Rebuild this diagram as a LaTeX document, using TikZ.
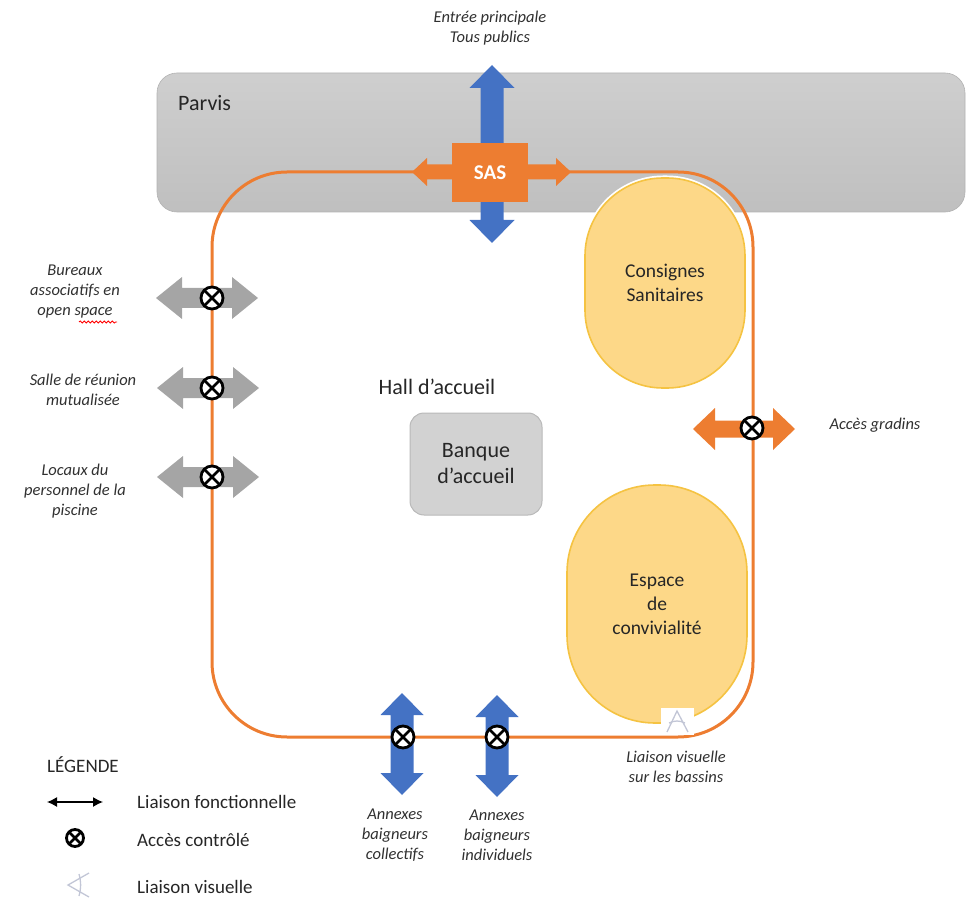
\documentclass[tikz,border=0pt]{standalone}
\usepackage{fontspec}
\setmainfont{Carlito}
\usetikzlibrary{decorations.pathmorphing,arrows.meta}
\definecolor{orng}{HTML}{ED7D31}
\definecolor{blu}{HTML}{4472C4}
\definecolor{gry}{HTML}{A5A5A5}
\definecolor{ylwfill}{HTML}{FDD888}
\definecolor{ylwdraw}{HTML}{F5C342}
\definecolor{eyec}{HTML}{C2C6D6}
\definecolor{lbl}{HTML}{303030}
\newcommand{\HArrow}[7]{%
 \fill[#7] ({#1-#3},#2) -- ({#1-#3+#4},{#2-#5}) -- ({#1-#3+#4},{#2-#6}) -- ({#1+#3-#4},{#2-#6}) -- ({#1+#3-#4},{#2-#5}) -- ({#1+#3},#2) -- ({#1+#3-#4},{#2+#5}) -- ({#1+#3-#4},{#2+#6}) -- ({#1-#3+#4},{#2+#6}) -- ({#1-#3+#4},{#2+#5}) -- cycle;}
\newcommand{\VArrow}[7]{%
 \fill[#7] (#1,{#2-#3}) -- ({#1+#5},{#2-#3+#4}) -- ({#1+#6},{#2-#3+#4}) -- ({#1+#6},{#2+#3-#4}) -- ({#1+#5},{#2+#3-#4}) -- (#1,{#2+#3}) -- ({#1-#5},{#2+#3-#4}) -- ({#1-#6},{#2+#3-#4}) -- ({#1-#6},{#2-#3+#4}) -- ({#1-#5},{#2-#3+#4}) -- cycle;}
\tikzset{
 ctrl/.style={circle, draw=black, line width=2.8pt, fill=white, minimum size=22pt, inner sep=0pt,
   path picture={\draw[line width=2.6pt] (path picture bounding box.north west) -- (path picture bounding box.south east) (path picture bounding box.north east) -- (path picture bounding box.south west);}},
 lab/.style={font=\fontsize{16.5}{20}\selectfont\itshape, text=lbl, align=center, inner sep=0pt},
 big/.style={font=\fontsize{22}{26}\selectfont, text=black!85, align=center, inner sep=0pt},
 leg/.style={font=\fontsize{19}{22}\selectfont, text=black!85, anchor=west, inner sep=0pt},
 yel/.style={fill=ylwfill, draw=ylwdraw, line width=1.6pt, preaction={draw=white, line width=5pt}, align=center, font=\fontsize{19.5}{24}\selectfont, text=black!85},
 loopline/.style={draw=orng, line width=3pt},
 eyeline/.style={draw=eyec, line width=1.3pt},
}
\begin{document}
\begin{tikzpicture}[x=1pt,y=-1pt]
\useasboundingbox (0,0) rectangle (970,904);
% Parvis
\node[minimum width=808pt, minimum height=139pt, rounded corners=20pt, top color=gray!38, bottom color=gray!50, draw=gray!60, line width=0.6pt, inner sep=0pt] (parvis) at (561,142.5) {};
\node[big, anchor=west] (parvislab) at (178,103) {Parvis};
% yellow spaces
\node[yel, minimum width=160pt, minimum height=210pt, rounded corners=78pt] (consignes) at (665,283) {Consignes\\Sanitaires};
\node[yel, minimum width=180pt, minimum height=238pt, rounded corners=88pt] (espace) at (657,604) {Espace\\de\\convivialité};
% loop
\draw[loopline, rounded corners=75pt] (212,172) rectangle (753,737);
% banque
\node[fill=gray!35, draw=gray!55, line width=1pt, rounded corners=14pt, minimum width=132pt, minimum height=102pt, big] (banque) at (476,464) {Banque\\d’accueil};
\node[big] (hall) at (437,387) {Hall d’accueil};
% SAS
\HArrow{491.5}{172}{79.5}{15}{14}{7.5}{orng}
\VArrow{492}{154}{89}{23}{22.5}{11.5}{blu}
\node[fill=orng, minimum width=76pt, minimum height=59pt, inner sep=0pt, text=white, font=\fontsize{21}{24}\selectfont\bfseries] (sas) at (490,172.5) {SAS};
\node[lab] (entree) at (490,28) {Entrée principale\\Tous publics};
% left gray arrows
\HArrow{207}{298}{51}{26}{21}{10}{gry}
\HArrow{208}{388}{51}{26}{21}{10}{gry}
\HArrow{208}{477}{51}{26}{21}{10}{gry}
\node[ctrl] (c1) at (212,298) {};
\node[ctrl] (c2) at (212,388) {};
\node[ctrl] (c3) at (212,477) {};
\node[lab] (bureaux) at (75,292) {Bureaux\\associatifs en\\open space};
\draw[red, line width=0.8pt, decorate, decoration={snake, amplitude=1.1pt, segment length=4pt}] (79,322) -- (117,322);
\node[lab] (salle) at (83,390) {Salle de réunion\\mutualisée};
\node[lab] (locaux) at (75,491) {Locaux du\\personnel de la\\piscine};
% right access
\HArrow{744}{429}{51}{22}{21}{8.5}{orng}
\node[ctrl] (c4) at (752,428) {};
\node[lab] (gradins) at (875,425) {Accès gradins};
% bottom blue arrows
\VArrow{402}{744}{51}{22}{21.5}{11.5}{blu}
\VArrow{497}{746}{51}{22}{21.5}{11.5}{blu}
\node[ctrl] (c5) at (403,737) {};
\node[ctrl] (c6) at (497,737) {};
\node[lab] (coll) at (395,835) {Annexes\\baigneurs\\collectifs};
\node[lab] (indiv) at (497,835) {Annexes\\baigneurs\\individuels};
% visual link
\node[fill=white, minimum width=33pt, minimum height=27pt, inner sep=0pt] (eyebox) at (677,721) {};
\draw[eyeline] (667,732) -- (677,711) -- (688,732);
\draw[eyeline] (669,723) to[bend left=25] (685,723);
\node[lab] (liaison) at (676,767) {Liaison visuelle\\sur les bassins};
% legend
\node[leg] (legtitle) at (47,765) {LÉGENDE};
\coordinate (la) at (47,802);
\coordinate (lb) at (103,802);
\draw[line width=1.3pt, {Latex[length=10pt,width=10pt]}-{Latex[length=10pt,width=10pt]}] (la) -- (lb);
\node[leg] (legf) at (137,802) {Liaison fonctionnelle};
\node[ctrl, minimum size=17pt] (legc) at (75,838) {};
\node[leg] (legac) at (137,840) {Accès contrôlé};
\draw[eyeline] (89,873) -- (68,885) -- (89,897);
\draw[eyeline] (79,874) to[bend left=15] (79,896);
\node[leg] (legv) at (137,887) {Liaison visuelle};
\end{tikzpicture}
\end{document}
